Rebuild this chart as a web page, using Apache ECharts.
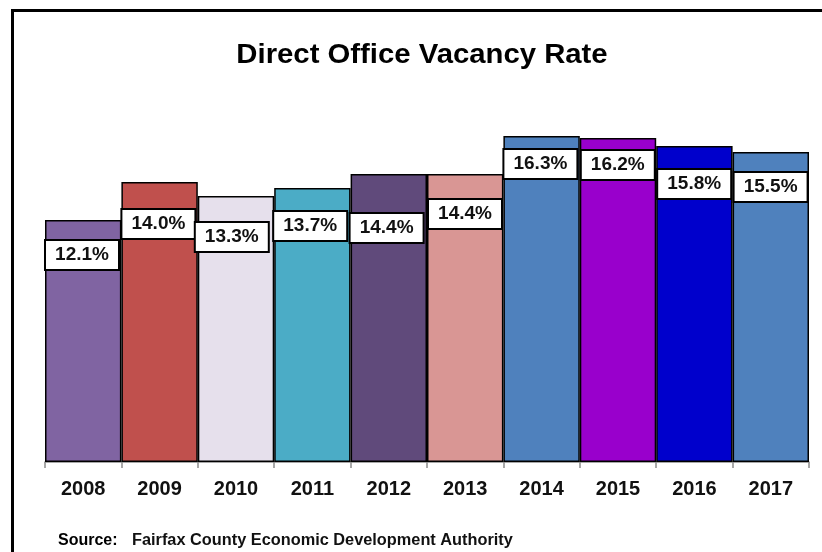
<!DOCTYPE html>
<html>
<head>
<meta charset="utf-8">
<script src="https://cdn.jsdelivr.net/npm/echarts@6/dist/echarts.min.js"></script>
<style>
html,body{margin:0;padding:0;background:#fff;}
#chart{width:822px;height:552px;}
</style>
</head>
<body>
<div id="chart"></div>
<script>
var categories = ['2008','2009','2010','2011','2012','2013','2014','2015','2016','2017'];
var vacancyRates = [12.1, 14.0, 13.3, 13.7, 14.4, 14.4, 16.3, 16.2, 15.8, 15.5];
var barColors = ['#8064A2','#C0504D','#E6E0EC','#4BACC6','#604A7B','#D99694','#4F81BD','#9900CC','#0000CC','#4F81BD'];
// label anchor (px from bar's left edge, px below bar top)
var labelAnchors = [[37,35],[37,42],[34,41],[36,38],[36,54],[38,40],[37,28],[38,27],[38,38],[38,35]];

var chart = echarts.init(document.getElementById('chart'));
var font = '"Liberation Sans", Arial, sans-serif';
chart.setOption({
  animation: false,
  backgroundColor: '#fff',
  grid: {left: 45, right: 13, top: 102, bottom: 90},
  xAxis: {
    type: 'category',
    data: categories,
    boundaryGap: true,
    axisLine: {lineStyle: {color: '#8c8c8c', width: 1.5}},
    axisTick: {show: true, length: 6, lineStyle: {color: '#8c8c8c', width: 1.5}},
    axisLabel: {color: '#111', fontFamily: font, fontWeight: 'bold', fontSize: 20, margin: 17}
  },
  yAxis: {
    type: 'value', min: 0, max: 18, interval: 2,
    show: false
  },
  graphic: [
    {type: 'rect', shape: {x: 12.5, y: 10.5, width: 900, height: 700},
     style: {fill: null, stroke: '#000', lineWidth: 3}, z: 0},
    {type: 'text', x: 422, y: 56, scaleX: 1.085,
     style: {text: 'Direct Office Vacancy Rate', fill: '#000', font: 'bold 27px "Liberation Sans", Arial, sans-serif',
             textAlign: 'center', textVerticalAlign: 'middle'}},
    {type: 'text', x: 58, y: 541,
     style: {text: 'Source:', fill: '#000', font: 'bold 16px "Liberation Sans", sans-serif', textVerticalAlign: 'middle'}},
    {type: 'text', x: 132, y: 541, scaleX: 1.02,
     style: {text: 'Fairfax County Economic Development Authority', fill: '#111', font: 'bold 16px "Liberation Sans", sans-serif', textVerticalAlign: 'middle'}}
  ],
  series: [{
    type: 'bar',
    barCategoryGap: '0%',
    data: vacancyRates.map(function (v, i) {
      return {
        value: v,
        itemStyle: {color: barColors[i]},
        label: {position: labelAnchors[i]}
      };
    }),
    itemStyle: {borderColor: '#000', borderWidth: 1.5},
    label: {
      show: true,
      formatter: function (p) { return p.value.toFixed(1) + '%'; },
      color: '#111',
      fontFamily: font,
      fontWeight: 'bold',
      fontSize: 19,
      backgroundColor: '#fff',
      borderColor: '#000',
      borderWidth: 2,
      width: 70,
      height: 26,
      lineHeight: 26,
      padding: [1, 1],
      align: 'center',
      verticalAlign: 'middle'
    }
  }]
});
</script>
</body>
</html>
